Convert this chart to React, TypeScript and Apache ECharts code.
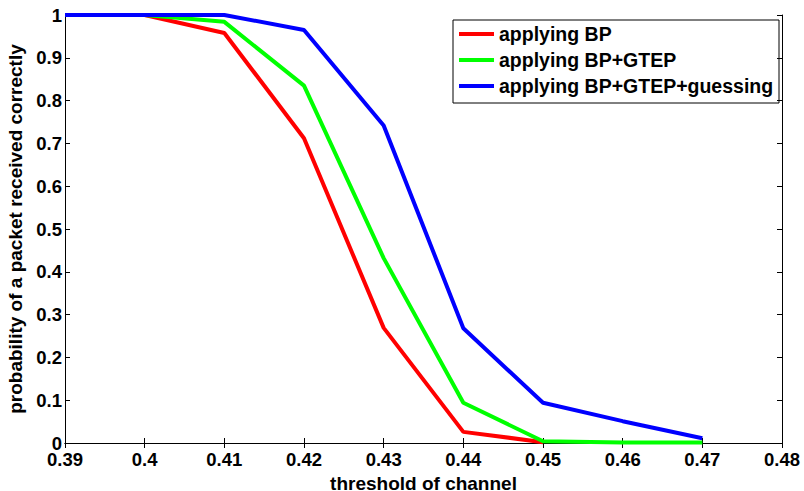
import React, { useEffect, useRef } from "react";
import * as echarts from "echarts";

const thresholds = [0.39, 0.4, 0.41, 0.42, 0.43, 0.44, 0.45, 0.46, 0.47];
const bpValues = [1, 1, 0.958, 0.712, 0.269, 0.026, 0.002];
const gtepValues = [1, 1, 0.984, 0.835, 0.432, 0.094, 0.004, 0.001, 0.001];
const guessValues = [1, 1, 1, 0.965, 0.742, 0.268, 0.094, 0.051, 0.011];
const seriesNames = ["applying BP", "applying BP+GTEP", "applying BP+GTEP+guessing"];
const seriesColors = ["#ff0000", "#00ff00", "#0000ff"];
const xTitle = "threshold of channel";
const yTitle = "probability of a packet received correctly";

const FONT = "'Liberation Sans', Arial, Helvetica, sans-serif";

function pairs(vals: number[]) {
  return vals.map((v, i) => [thresholds[i], v]);
}

export default function App() {
  const ref = useRef<HTMLDivElement>(null);
  useEffect(() => {
    if (!ref.current) return;
    const chart = echarts.init(ref.current, null, { renderer: "svg" });
    const tickInside = { show: true, inside: true, length: 5, lineStyle: { color: "#000", width: 1 } };
    const lineAxis = { show: true, lineStyle: { color: "#000", width: 1 } };
    const labelStyle = { color: "#000", fontFamily: FONT, fontWeight: "bold" as const, fontSize: 18.5 };
    const datas = [bpValues, gtepValues, guessValues];
    chart.setOption({
      animation: false,
      backgroundColor: "#fff",
      grid: { left: 65, right: 22, top: 15, bottom: 48, containLabel: false, outerBoundsMode: "none" },
      xAxis: [
        {
          type: "value",
          min: 0.39,
          max: 0.48,
          interval: 0.01,
          position: "bottom",
          axisLine: lineAxis,
          axisTick: tickInside,
          splitLine: { show: false },
          axisLabel: { ...labelStyle, margin: 7 },
          name: xTitle,
          nameLocation: "middle",
          nameGap: 24,
          nameTextStyle: { ...labelStyle, fontSize: 19, lineHeight: 19 },
        },
        {
          type: "value",
          min: 0.39,
          max: 0.48,
          interval: 0.01,
          position: "top",
          axisLine: lineAxis,
          axisTick: tickInside,
          splitLine: { show: false },
          axisLabel: { show: false },
        },
      ],
      yAxis: [
        {
          type: "value",
          min: 0,
          max: 1,
          interval: 0.1,
          position: "left",
          axisLine: lineAxis,
          axisTick: tickInside,
          splitLine: { show: false },
          axisLabel: { ...labelStyle, margin: 3 },
          name: yTitle,
          nameLocation: "middle",
          nameGap: 34,
          nameTextStyle: { ...labelStyle, fontSize: 19 },
        },
        {
          type: "value",
          min: 0,
          max: 1,
          interval: 0.1,
          position: "right",
          axisLine: lineAxis,
          axisTick: tickInside,
          splitLine: { show: false },
          axisLabel: { show: false },
        },
      ],
      legend: {
        orient: "vertical",
        left: 453,
        top: 20,
        padding: [4, 6, 7, 6],
        itemWidth: 35,
        itemHeight: 4,
        itemGap: 6,
        icon: "rect",
        data: seriesNames,
        textStyle: { ...labelStyle, fontSize: 19.5, lineHeight: 20 },
      },
      graphic: [
        {
          type: "rect",
          shape: { x: 453, y: 20, width: 326, height: 83 },
          style: { fill: "#fff", stroke: "#000", lineWidth: 1 },
          z: 0,
          zlevel: 0,
        },
      ],
      series: datas.map((d, i) => ({
        name: seriesNames[i],
        type: "line",
        data: pairs(d),
        showSymbol: false,
        symbol: "none",
        color: seriesColors[i],
        lineStyle: { color: seriesColors[i], width: 4 },
        z: 3,
      })),
    });
    return () => chart.dispose();
  }, []);
  return <div ref={ref} style={{ width: 804, height: 491, position: "absolute", left: 0, top: 0 }} />;
}
